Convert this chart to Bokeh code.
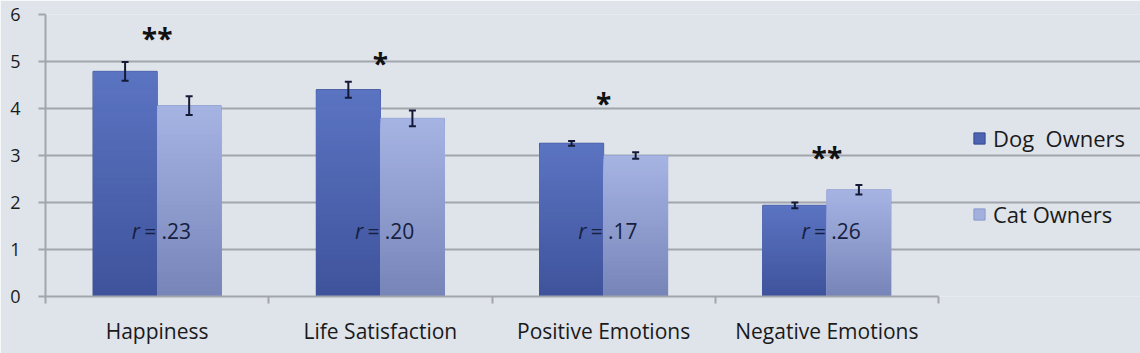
import numpy as np
from bokeh.plotting import figure
from bokeh.models import (ColumnDataSource, Range1d, FixedTicker, Whisker, TeeHead,
                          Legend, LegendItem)
from bokeh.core.properties import value
from bokeh.embed import file_html
from bokeh.resources import INLINE

# ---- data ----
categories = ["Happiness", "Life Satisfaction", "Positive Emotions", "Negative Emotions"]
dog_means = [4.79, 4.40, 3.26, 1.94]
cat_means = [4.06, 3.79, 3.00, 2.27]
dog_err = [0.20, 0.17, 0.05, 0.06]
cat_err = [0.20, 0.17, 0.07, 0.10]
r_labels = [".23", ".20", ".17", ".26"]
r_y = [1.40, 1.40, 1.40, 1.40]
sig_labels = ["**", "*", "*", "**"]
sig_y = [5.53, 4.98, 4.13, 3.00]
series_names = ["Dog  Owners", "Cat Owners"]
y_ticks = [0, 1, 2, 3, 4, 5, 6]

FONT_NAME = "Open Sans"
FONT = value(FONT_NAME)
BG = "#dfe3ea"
GRID = "#a2a6ac"
DOG_TOP, DOG_BOT = "#5b74c2", "#3f539c"
CAT_TOP, CAT_BOT = "#a6b4e4", "#7784b8"
BAR_W = 0.287
N_SLICES = 40

W, H = 1140, 353
LEFT, TOP, BOTTOM = 45, 14, 57
AXIS_END_PX = 938          # where the category axis / grid stops
n = len(categories)
x_end = n * (W - LEFT) / (AXIS_END_PX - LEFT)

def mix(c1, c2, t):
    a = np.array([int(c1[i:i + 2], 16) for i in (1, 3, 5)], float)
    b = np.array([int(c2[i:i + 2], 16) for i in (1, 3, 5)], float)
    c = a + (b - a) * t
    return "#%02x%02x%02x" % tuple(int(round(v)) for v in c)

p = figure(width=W, height=H, output_backend="svg", toolbar_location=None,
           x_range=Range1d(0, x_end), y_range=Range1d(0, 6),
           min_border_left=LEFT, min_border_right=0, min_border_top=TOP, min_border_bottom=BOTTOM)
p.background_fill_color = BG
p.border_fill_color = BG
p.outline_line_color = None

centers = [i + 0.5 for i in range(n)]

# ---- solid base bars (also used for the legend swatches) ----
r_dog = p.quad(left=[c - BAR_W for c in centers], right=centers, bottom=0, top=dog_means,
               fill_color="#4b63b2", line_color="#34488c")
r_cat = p.quad(left=centers, right=[c + BAR_W for c in centers], bottom=0, top=cat_means,
               fill_color="#a2b0de", line_color="#8c9acb")

# ---- gradient overlay: overlapping quads from the baseline, tallest (lightest) first ----
def bar_layers(means, offset_left, top_c, bot_c):
    L, R, B, T, C = [], [], [], [], []
    for k in range(N_SLICES, 0, -1):
        frac = k / N_SLICES
        t = (k - 0.5) / N_SLICES
        for c, m in zip(centers, means):
            L.append(c + offset_left)
            R.append(c + offset_left + BAR_W)
            B.append(0)
            T.append(m * frac)
            C.append(mix(bot_c, top_c, t))
    return ColumnDataSource(dict(left=L, right=R, bottom=B, top=T, color=C))

p.quad(left="left", right="right", bottom="bottom", top="top", fill_color="color",
       line_color=None, source=bar_layers(dog_means, -BAR_W, DOG_TOP, DOG_BOT))
p.quad(left="left", right="right", bottom="bottom", top="top", fill_color="color",
       line_color=None, source=bar_layers(cat_means, 0.0, CAT_TOP, CAT_BOT))

# ---- error bars ----
ex = [c - BAR_W / 2 for c in centers] + [c + BAR_W / 2 for c in centers]
em = dog_means + cat_means
ee = dog_err + cat_err
err_src = ColumnDataSource(dict(x=ex, upper=[m + e for m, e in zip(em, ee)],
                                lower=[m - e for m, e in zip(em, ee)]))
wh = Whisker(base="x", upper="upper", lower="lower", source=err_src, dimension="height",
             line_color="#141a36", line_width=2, level="annotation",
             upper_head=TeeHead(size=7, line_color="#141a36", line_width=2),
             lower_head=TeeHead(size=7, line_color="#141a36", line_width=2))
p.add_layout(wh)

# ---- r labels ----
p.text(x=centers, y=r_y, text=["r"] * n, text_font=FONT, text_font_style="italic",
       text_font_size="21px", text_align="right", text_baseline="middle",
       x_offset=-17, text_color="#16203f")
p.text(x=centers, y=r_y, text=["= " + s for s in r_labels], text_font=FONT,
       text_font_size="21px", text_align="left", text_baseline="middle",
       x_offset=-13, text_color="#16203f")

# ---- significance stars ----
p.text(x=centers, y=sig_y, text=sig_labels, text_font=FONT, text_font_style="bold",
       text_font_size="28px", text_align="center", text_baseline="alphabetic",
       y_offset=1, text_color="#111111")

# ---- axes ----
p.xgrid.visible = False
p.ygrid.ticker = FixedTicker(ticks=y_ticks)
p.ygrid.grid_line_color = GRID
p.ygrid.grid_line_width = 2
p.ygrid.bounds = (0, n)

p.yaxis.ticker = FixedTicker(ticks=y_ticks)
p.yaxis.axis_line_color = GRID
p.yaxis.axis_line_width = 2
p.yaxis.major_tick_line_color = GRID
p.yaxis.major_tick_line_width = 2
p.yaxis.major_tick_out = 7
p.yaxis.major_tick_in = 0
p.yaxis.minor_tick_line_color = None
p.yaxis.major_label_standoff = 18
p.yaxis.major_label_text_font = FONT_NAME
p.yaxis.major_label_text_font_size = "18px"
p.yaxis.major_label_text_color = "#1a1a1a"

p.xaxis.ticker = FixedTicker(ticks=centers, minor_ticks=list(range(n + 1)))
p.xaxis.bounds = (0, n)
p.xaxis.major_label_overrides = {c: name for c, name in zip(centers, categories)}
p.xaxis.axis_line_color = GRID
p.xaxis.axis_line_width = 2
p.xaxis.major_tick_line_color = None
p.xaxis.minor_tick_line_color = GRID
p.xaxis.minor_tick_line_width = 2
p.xaxis.minor_tick_out = 7
p.xaxis.minor_tick_in = 0
p.xaxis.major_label_standoff = 13
p.xaxis.major_label_text_font = FONT_NAME
p.xaxis.major_label_text_font_size = "21px"
p.xaxis.major_label_text_color = "#1a1a1a"

# ---- legend ----
legend = Legend(items=[LegendItem(label=series_names[0], renderers=[r_dog]),
                       LegendItem(label=series_names[1], renderers=[r_cat])],
                location=(927, 67), orientation="vertical",
                glyph_width=14, glyph_height=14, label_height=26, spacing=46,
                label_standoff=7, padding=0, margin=0,
                border_line_color=None, background_fill_alpha=0,
                label_text_font=FONT_NAME, label_text_font_size="22px",
                label_text_color="#1a1a1a")
p.add_layout(legend, "center")

open("out.html", "w").write(file_html(p, INLINE))
